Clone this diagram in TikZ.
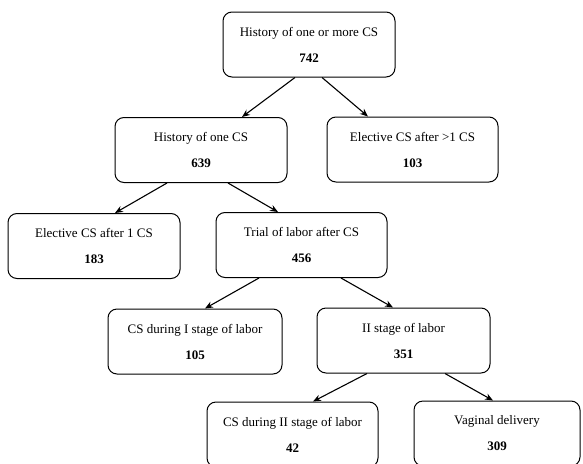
\documentclass[tikz,border=0pt]{standalone}
\usepackage{fontspec}
\setmainfont{Liberation Serif}
\usetikzlibrary{arrows.meta}
\tikzset{
  box/.style={draw=black, line width=1pt, rounded corners=9pt, align=center,
    inner sep=0pt, minimum height=65pt,
    font=\fontsize{13}{15}\selectfont},
  arr/.style={line width=1.1pt, -{Stealth[length=8pt,width=6.5pt]}}
}
\begin{document}
\begin{tikzpicture}[x=1pt,y=-1pt]
\useasboundingbox (0,0) rectangle (583,463);
\clip (0,0) rectangle (583,463);
\node[box, minimum width=172pt] (b1) at (309,44.5) {History of one or more CS\\[11pt]\textbf{742}};
\node[box, minimum width=172pt] (b2) at (201,150) {History of one CS\\[11pt]\textbf{639}};
\node[box, minimum width=171pt] (b3) at (412.5,149.5) {Elective CS after >1 CS\\[11pt]\textbf{103}};
\node[box, minimum width=172pt] (b4) at (94,246) {Elective CS after 1 CS\\[11pt]\textbf{183}};
\node[box, minimum width=171pt] (b5) at (301.5,245) {Trial of labor after CS\\[11pt]\textbf{456}};
\node[box, minimum width=174pt] (b6) at (195,341.5) {CS during I stage of labor\\[11pt]\textbf{105}};
\node[box, minimum width=173pt] (b7) at (403.5,340.5) {II stage of labor\\[11pt]\textbf{351}};
\node[box, minimum width=171pt] (b8) at (292.5,434.5) {CS during II stage of labor\\[11pt]\textbf{42}};
\node[box, minimum width=166pt] (b9) at (497,433.5) {Vaginal delivery\\[11pt]\textbf{309}};
\draw[arr] ([xshift=-14pt]b1.south) -- ([xshift=41pt]b2.north);
\draw[arr] ([xshift=13pt]b1.south) -- ([xshift=-44.5pt]b3.north);
\draw[arr] ([xshift=-34pt]b2.south) -- ([xshift=21pt]b4.north);
\draw[arr] ([xshift=27pt]b2.south) -- ([xshift=-23.5pt]b5.north);
\draw[arr] ([xshift=-42.5pt]b5.south) -- ([xshift=10pt]b6.north);
\draw[arr] ([xshift=39.5pt]b5.south) -- ([xshift=-10.5pt]b7.north);
\draw[arr] ([xshift=-36.5pt]b7.south) -- ([xshift=20.5pt]b8.north);
\draw[arr] ([xshift=41.5pt]b7.south) -- ([xshift=-4pt]b9.north);
\end{tikzpicture}
\end{document}
